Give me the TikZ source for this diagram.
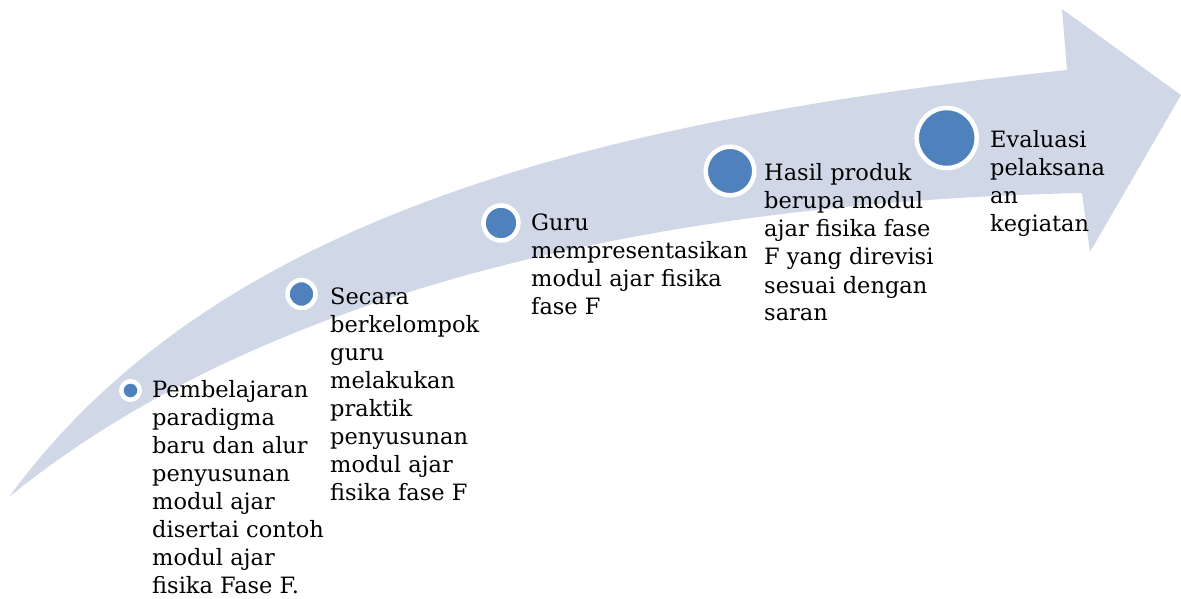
\documentclass[tikz,border=0pt]{standalone}
\usepackage{fontspec}
\setmainfont{DejaVu Serif}
\definecolor{bandcol}{HTML}{D0D8E8}
\definecolor{dotcol}{HTML}{4F81BD}
\begin{document}
\begin{tikzpicture}[x=1pt,y=-1pt,
  dotnode/.style={circle, fill=dotcol, draw=white, line width=4.5pt, inner sep=0pt},
  txt/.style={anchor=base west, inner sep=0pt, font=\fontsize{22.5}{28}\selectfont}]
\useasboundingbox (0,0) rectangle (1181,599);
\fill[bandcol] (9,497) .. controls (215,215) and (600,120) .. (1067,70)
  -- (1062,9) -- (1181,95) -- (1090,252) -- (1082,193)
  .. controls (750,200) and (300,260) .. (9,497) -- cycle;
\node[dotnode, minimum size=18.4pt] (c1) at (130.5,390.5) {};
\node[dotnode, minimum size=28pt] (c2) at (301.5,294) {};
\node[dotnode, minimum size=35pt] (c3) at (501,223) {};
\node[dotnode, minimum size=48.6pt] (c4) at (730,171) {};
\node[dotnode, minimum size=60pt] (c5) at (946.7,138) {};
\node[txt] (t1) at (152,397.7) {\begin{tabular}[t]{@{}l@{}}Pembelajaran\\paradigma\\baru dan alur\\penyusunan\\modul ajar\\disertai contoh\\modul ajar\\fisika Fase F.\end{tabular}};
\node[txt] (t2) at (330,304.3) {\begin{tabular}[t]{@{}l@{}}Secara\\berkelompok\\guru\\melakukan\\praktik\\penyusunan\\modul ajar\\fisika fase F\end{tabular}};
\node[txt] (t3) at (531,230.7) {\begin{tabular}[t]{@{}l@{}}Guru\\mempresentasikan\\modul ajar fisika\\fase F\end{tabular}};
\node[txt] (t4) at (764,181) {\begin{tabular}[t]{@{}l@{}}Hasil produk\\berupa modul\\ajar fisika fase\\F yang direvisi\\sesuai dengan\\saran\end{tabular}};
\node[txt] (t5) at (990,147.7) {\begin{tabular}[t]{@{}l@{}}Evaluasi\\pelaksana\\an\\kegiatan\end{tabular}};
\end{tikzpicture}
\end{document}
